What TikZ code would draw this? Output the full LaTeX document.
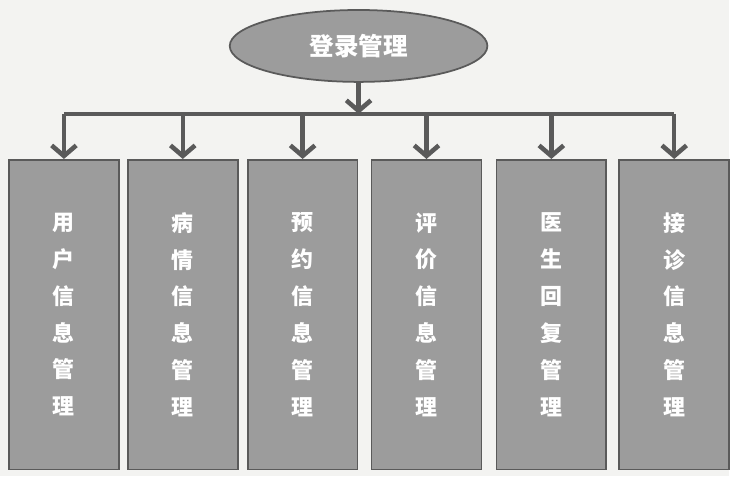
\documentclass[tikz,border=0pt]{standalone}
\usepackage{fontspec}
\usetikzlibrary{arrows.meta,shapes.geometric}
\newfontfamily\cjk{Noto Sans CJK SC}
\definecolor{paper}{HTML}{F3F3F1}
\definecolor{boxgray}{HTML}{9C9C9C}
\definecolor{linegray}{HTML}{5A5A5A}
\tikzset{
  modbox/.style={draw=linegray, line width=1pt, fill=boxgray, minimum width=2.2cm,
    minimum height=6.2cm, inner sep=0pt, text=white, align=center,
    font=\cjk\bfseries\fontsize{12.5}{21}\selectfont},
  topnode/.style={ellipse, draw=linegray, line width=1pt, fill=boxgray, minimum width=5.16cm,
    minimum height=1.44cm, inner sep=0pt, text=white,
    font=\cjk\bfseries\fontsize{14}{16}\selectfont},
  conn/.style={draw=linegray, line width=2.6pt},
  arr/.style={conn, -{Straight Barb[length=6pt,width=14pt]}}
}
\begin{document}
\begin{tikzpicture}[x=0.02cm,y=-0.02cm]
		\fill[paper] (0,0) rectangle (730,477);
		\node[topnode] (login) at (359,46) {登录管理};
		\coordinate (bar) at (359,114);
		\node[modbox] (user) at (64,315) {用\\户\\信\\息\\管\\理};
		\node[modbox] (ill) at (183,315) {病\\情\\信\\息\\管\\理};
		\node[modbox] (book) at (303,315) {预\\约\\信\\息\\管\\理};
		\node[modbox] (rate) at (427,315) {评\\价\\信\\息\\管\\理};
		\node[modbox] (reply) at (552,315) {医\\生\\回\\复\\管\\理};
		\node[modbox] (visit) at (675,315) {接\\诊\\信\\息\\管\\理};
		\draw[arr] (login.south) -- (bar);
		\draw[conn] (user.north |- bar) -- (visit.north |- bar);
		\draw[arr] (user.north |- bar) -- (user.north);
		\draw[arr] (ill.north |- bar) -- (ill.north);
		\draw[arr] (book.north |- bar) -- (book.north);
		\draw[arr] (rate.north |- bar) -- (rate.north);
		\draw[arr] (reply.north |- bar) -- (reply.north);
		\draw[arr] (visit.north |- bar) -- (visit.north);
\end{tikzpicture}
\end{document}
